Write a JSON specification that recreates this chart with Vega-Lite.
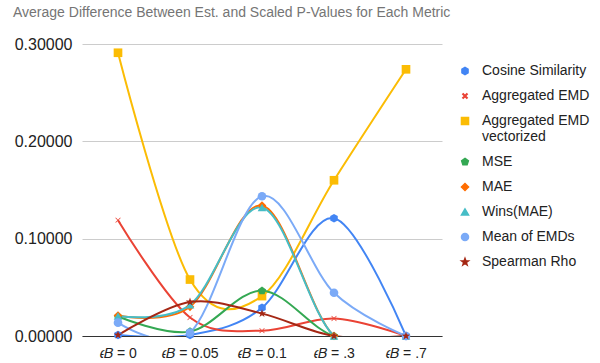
{
  "$schema": "https://vega.github.io/schema/vega-lite/v6.json",
  "width": 360,
  "height": 292,
  "autosize": {"type": "none"},
  "padding": {"left": 82, "top": 44, "right": 158, "bottom": 27},
  "background": "white",
  "title": {"text": "Average Difference Between Est. and Scaled P-Values for Each Metric", "anchor": "start", "frame": "group", "dx": -69, "offset": 16, "fontSize": 14, "font": "Liberation Sans", "fontWeight": "normal", "color": "#757575"},
  "config": {"view": {"stroke": null}, "font": "Liberation Sans"},
  "data": {"values": [
    {"eps": "𝜖𝐵 = 0", "metric": "Cosine Similarity", "value": 0.001},
    {"eps": "𝜖𝐵 = 0.05", "metric": "Cosine Similarity", "value": 0.001},
    {"eps": "𝜖𝐵 = 0.1", "metric": "Cosine Similarity", "value": 0.029},
    {"eps": "𝜖𝐵 = .3", "metric": "Cosine Similarity", "value": 0.121},
    {"eps": "𝜖𝐵 = .7", "metric": "Cosine Similarity", "value": 0.0},
    {"eps": "𝜖𝐵 = 0", "metric": "Aggregated EMD", "value": 0.119},
    {"eps": "𝜖𝐵 = 0.05", "metric": "Aggregated EMD", "value": 0.019},
    {"eps": "𝜖𝐵 = 0.1", "metric": "Aggregated EMD", "value": 0.0055},
    {"eps": "𝜖𝐵 = .3", "metric": "Aggregated EMD", "value": 0.018},
    {"eps": "𝜖𝐵 = .7", "metric": "Aggregated EMD", "value": 0.0},
    {"eps": "𝜖𝐵 = 0", "metric": "Aggregated EMD vectorized", "value": 0.291},
    {"eps": "𝜖𝐵 = 0.05", "metric": "Aggregated EMD vectorized", "value": 0.058},
    {"eps": "𝜖𝐵 = 0.1", "metric": "Aggregated EMD vectorized", "value": 0.041},
    {"eps": "𝜖𝐵 = .3", "metric": "Aggregated EMD vectorized", "value": 0.160},
    {"eps": "𝜖𝐵 = .7", "metric": "Aggregated EMD vectorized", "value": 0.274},
    {"eps": "𝜖𝐵 = 0", "metric": "MSE", "value": 0.020},
    {"eps": "𝜖𝐵 = 0.05", "metric": "MSE", "value": 0.0045},
    {"eps": "𝜖𝐵 = 0.1", "metric": "MSE", "value": 0.0465},
    {"eps": "𝜖𝐵 = .3", "metric": "MSE", "value": 0.0},
    {"eps": "𝜖𝐵 = .7", "metric": "MSE", "value": 0.0},
    {"eps": "𝜖𝐵 = 0", "metric": "MAE", "value": 0.021},
    {"eps": "𝜖𝐵 = 0.05", "metric": "MAE", "value": 0.030},
    {"eps": "𝜖𝐵 = 0.1", "metric": "MAE", "value": 0.134},
    {"eps": "𝜖𝐵 = .3", "metric": "MAE", "value": 0.0},
    {"eps": "𝜖𝐵 = .7", "metric": "MAE", "value": 0.0},
    {"eps": "𝜖𝐵 = 0", "metric": "Wins(MAE)", "value": 0.0205},
    {"eps": "𝜖𝐵 = 0.05", "metric": "Wins(MAE)", "value": 0.032},
    {"eps": "𝜖𝐵 = 0.1", "metric": "Wins(MAE)", "value": 0.132},
    {"eps": "𝜖𝐵 = .3", "metric": "Wins(MAE)", "value": 0.0},
    {"eps": "𝜖𝐵 = .7", "metric": "Wins(MAE)", "value": 0.0},
    {"eps": "𝜖𝐵 = 0", "metric": "Mean of EMDs", "value": 0.0137},
    {"eps": "𝜖𝐵 = 0.05", "metric": "Mean of EMDs", "value": 0.0035},
    {"eps": "𝜖𝐵 = 0.1", "metric": "Mean of EMDs", "value": 0.1436},
    {"eps": "𝜖𝐵 = .3", "metric": "Mean of EMDs", "value": 0.0444},
    {"eps": "𝜖𝐵 = .7", "metric": "Mean of EMDs", "value": 0.0},
    {"eps": "𝜖𝐵 = 0", "metric": "Spearman Rho", "value": 0.001},
    {"eps": "𝜖𝐵 = 0.05", "metric": "Spearman Rho", "value": 0.035},
    {"eps": "𝜖𝐵 = 0.1", "metric": "Spearman Rho", "value": 0.023},
    {"eps": "𝜖𝐵 = .3", "metric": "Spearman Rho", "value": 0.0},
    {"eps": "𝜖𝐵 = .7", "metric": "Spearman Rho", "value": 0.0}
  ]},
  "encoding": {
    "x": {"field": "eps", "type": "ordinal", "sort": ["𝜖𝐵 = 0", "𝜖𝐵 = 0.05", "𝜖𝐵 = 0.1", "𝜖𝐵 = .3", "𝜖𝐵 = .7"], "scale": {"type": "point", "padding": 0.5}, "title": null,
      "axis": {"labelAngle": 0, "labelFontSize": 14, "labelColor": "#222", "ticks": false, "domain": true, "domainColor": "#333", "domainWidth": 1, "labelPadding": 10, "grid": false}},
    "y": {"field": "value", "type": "quantitative", "scale": {"domain": [0, 0.3], "nice": false}, "title": null,
      "axis": {"values": [0, 0.1, 0.2, 0.3], "format": ".5f", "labelFontSize": 16, "labelColor": "#222", "ticks": false, "domain": false, "gridColor": "#cccccc", "labelPadding": 10}},
    "color": {"field": "metric", "type": "nominal",
      "sort": ["Cosine Similarity", "Aggregated EMD", "Aggregated EMD vectorized", "MSE", "MAE", "Wins(MAE)", "Mean of EMDs", "Spearman Rho"],
      "scale": {"domain": ["Cosine Similarity", "Aggregated EMD", "Aggregated EMD vectorized", "MSE", "MAE", "Wins(MAE)", "Mean of EMDs", "Spearman Rho"],
        "range": ["#4285F4", "#EA4335", "#FBBC04", "#34A853", "#FF6D01", "#46BDC6", "#7BAAF7", "#A52714"]},
      "legend": {"orient": "none", "legendX": 376, "legendY": 20, "title": null, "padding": 0, "labelFontSize": 14, "labelColor": "#222", "rowPadding": 11, "symbolSize": 50, "labelOffset": 10, "labelLimit": 200,
        "labelExpr": "datum.label == 'Aggregated EMD vectorized' ? ['Aggregated EMD', 'vectorized'] : datum.label"}}
  },
  "layer": [
    {"mark": {"type": "line", "interpolate": "cardinal", "strokeWidth": 2, "clip": true}},
    {"mark": {"type": "point", "filled": true, "opacity": 1, "size": 75},
      "encoding": {"shape": {"field": "metric", "type": "nominal",
        "sort": ["Cosine Similarity", "Aggregated EMD", "Aggregated EMD vectorized", "MSE", "MAE", "Wins(MAE)", "Mean of EMDs", "Spearman Rho"],
        "scale": {"domain": ["Cosine Similarity", "Aggregated EMD", "Aggregated EMD vectorized", "MSE", "MAE", "Wins(MAE)", "Mean of EMDs", "Spearman Rho"],
          "range": [
            "M0,-1L0.866,-0.5L0.866,0.5L0,1L-0.866,0.5L-0.866,-0.5Z",
            "M-0.5,-0.62L0,-0.12L0.5,-0.62L0.62,-0.5L0.12,0L0.62,0.5L0.5,0.62L0,0.12L-0.5,0.62L-0.62,0.5L-0.12,0L-0.62,-0.5Z",
            "square",
            "M0,-1L0.951,-0.309L0.588,0.809L-0.588,0.809L-0.951,-0.309Z",
            "diamond",
            "triangle-up",
            "circle",
            "M0,-1L0.235,-0.324L0.951,-0.309L0.38,0.124L0.588,0.809L0,0.4L-0.588,0.809L-0.38,0.124L-0.951,-0.309L-0.235,-0.324Z"
          ]}}}}
  ]
}
